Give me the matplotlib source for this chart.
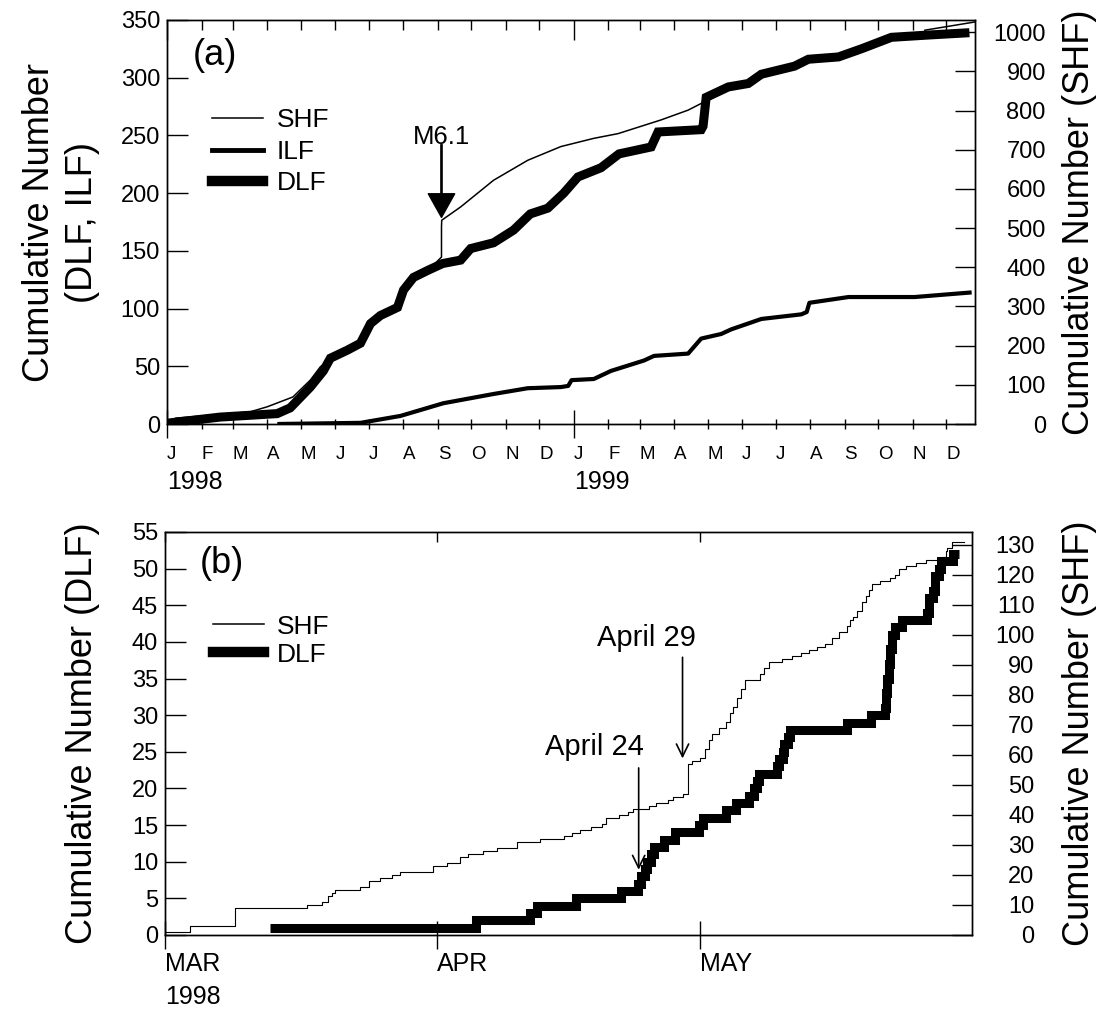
import numpy as np
import matplotlib
matplotlib.use('Agg')
import matplotlib.pyplot as plt
import matplotlib.dates as mdates
from matplotlib.lines import Line2D
from matplotlib.ticker import FuncFormatter, MultipleLocator

plt.rcParams['font.family'] = ['Liberation Sans', 'DejaVu Sans']
plt.rcParams['axes.linewidth'] = 1.0

# panel (a): event times in days after 1998-01-01
A_START = np.datetime64('1998-01-01')
A_END = np.datetime64('1999-12-27')

dlf_a_day = [0, 2.7, 47.7, 98.9, 110.6, 119.6, 128.6, 140.3, 146.6, 161.9,
             173.6, 182.6, 191.5, 206.8, 212.2, 221.2, 233.8, 247.3, 263.5, 272.5,
             293, 311, 326, 341.7, 356, 368.7, 389.4, 405.6, 434.4, 440.6,
             479.3, 481, 483.8, 503.6, 521.6, 533.3, 563, 575.5, 602.5, 623,
             650, 683.5, 720]
dlf_a_count = [0, 1, 6, 9, 14, 23, 32, 46, 57, 64,
               70, 87, 94, 101, 116, 127, 133, 139, 142, 152,
               157, 168, 182, 187, 200, 214, 222, 234, 240, 253,
               255, 258, 283, 292, 295, 303, 310, 316, 318, 325,
               335, 337, 339]

ilf_a_day = [99, 173.6, 209.5, 248, 293, 323.7, 353.4, 360, 363, 383,
             398.4, 428, 437, 467.6, 479.3, 497.3, 506.3, 533.3, 569.2, 574,
             576.4, 611.5, 670.9, 722]
ilf_a_count = [0, 1, 7, 18, 26, 31, 32, 33, 38, 39,
               46, 55, 59, 61, 74, 78, 82, 91, 95, 97,
               105, 110, 110, 114]

shf_a_day = [0, 8, 74.6, 90, 113, 128.6, 137.6, 149.3, 164.6, 173.6,
             182.6, 191.5, 206.8, 212.2, 221.2, 233.8, 246.3, 246.3, 246.5, 263.5,
             293, 323.7, 353.4, 383, 404.7, 443.3, 467.6, 479.3, 503.6, 521.6,
             533.3, 563, 575.5, 602.5, 623, 650, 679.5, 680, 725]
shf_a_count = [5, 15, 31, 44, 69, 112, 146, 171, 189, 205,
               255, 276, 297, 340, 373, 391, 426, 503, 520, 554,
               622, 673, 708, 729, 741, 776, 801, 818, 852, 868,
               891, 911, 929, 935, 955, 985, 990, 1005, 1026]

m61_day = 246.3

# panel (b): event times in days after 1998-03-01
B_START = np.datetime64('1998-03-01')
B_END = np.datetime64('1998-06-01')

shf_b_day = [0, 2.8, 8.0, 16.2, 17.9, 18.6, 19.0, 19.4, 22.2, 23.2,
             24.5, 25.9, 26.8, 30.5, 32.1, 33.6, 34.5, 36.2, 37.9, 40.1,
             42.7, 45.5, 46.4, 47.3, 48.6, 49.8, 50.3, 51.8, 52.8, 53.3,
             55.2, 56.0, 57.4, 57.9, 59.0, 59.6, 60.1, 61.0, 61.6, 62.0,
             62.4, 63.2, 64.0, 64.4, 64.7, 65.2, 65.7, 66.1, 67.8, 68.3,
             68.9, 70.3, 71.5, 72.5, 73.4, 74.3, 75.2, 76.0, 76.8, 77.7,
             78.1, 78.4, 78.9, 79.5, 79.9, 80.3, 80.6, 81.5, 82.6, 83.2,
             83.7, 84.5, 85.6, 86.8, 88.6, 89.0, 89.2, 89.7, 91.1]
shf_b_count = [1, 3, 9, 10, 11, 13, 14, 15, 16, 18,
               19, 20, 21, 23, 24, 26, 27, 28, 29, 31,
               32, 33, 34, 35, 36, 37, 39, 40, 41, 42,
               43, 44, 45, 46, 47, 57, 58, 59, 62, 65,
               67, 69, 71, 74, 76, 79, 82, 85, 87, 89,
               91, 92, 93, 94, 95, 96, 97, 99, 101, 103,
               105, 106, 108, 111, 113, 115, 117, 118, 119, 120,
               122, 123, 124, 125, 126, 128, 129, 131, 131]

dlf_b_day = [12.0, 35.5, 41.6, 42.4, 46.9, 52.0, 53.9, 54.3, 54.7, 55.0,
             55.4, 55.8, 56.9, 58.1, 60.9, 61.3, 64.0, 65.1, 66.6, 67.2,
             67.5, 67.7, 69.8, 70.0, 70.4, 70.6, 71.0, 71.2, 77.8, 80.5,
             82.1, 82.2, 82.3, 82.5, 82.7, 82.9, 83.2, 84.0, 86.9, 87.1,
             87.5, 87.8, 88.2, 88.5, 89.8, 90.5]
dlf_b_count = [1, 2, 3, 4, 5, 6, 7, 8, 9, 10,
               11, 12, 13, 14, 15, 16, 17, 18, 19, 20,
               21, 22, 23, 24, 25, 26, 27, 28, 29, 30,
               31, 33, 35, 37, 39, 41, 42, 43, 44, 46,
               47, 49, 50, 51, 52, 52]

b_months = ['1998-03-01', '1998-04-01', '1998-05-01']
b_month_labels = ['MAR', 'APR', 'MAY']


def to_dates(start, days):
    seconds = np.round(np.asarray(days, dtype=float) * 86400).astype('int64')
    return start + seconds.astype('timedelta64[s]')


def day_num(start, day):
    return mdates.date2num(to_dates(start, [day]))[0]


fig = plt.figure(figsize=(11.02, 10.09), dpi=100)

# ---------------- panel (a)
ax_a = fig.add_axes([0.15154, 0.57978, 0.73321, 0.40040])
ax_a2 = ax_a.twinx()

ax_a.plot(to_dates(A_START, dlf_a_day), dlf_a_count, color='k', lw=6.5,
          solid_joinstyle='miter', solid_capstyle='butt')
ax_a.plot(to_dates(A_START, ilf_a_day), ilf_a_count, color='k', lw=3.0,
          solid_capstyle='butt')
ax_a2.plot(to_dates(A_START, shf_a_day), shf_a_count, color='k', lw=1.1)

ax_a.set_xlim(A_START, A_END)
ax_a.set_ylim(0, 350)
ax_a2.set_ylim(0, 1031)
ax_a.yaxis.set_major_locator(MultipleLocator(50))
ax_a2.yaxis.set_major_locator(MultipleLocator(100))

letter = FuncFormatter(lambda x, pos: mdates.num2date(x).strftime('%b')[0])
ax_a.xaxis.set_major_locator(mdates.YearLocator())
ax_a.xaxis.set_minor_locator(mdates.MonthLocator())
ax_a.xaxis.set_major_formatter(letter)
ax_a.xaxis.set_minor_formatter(letter)

ax_a.tick_params(axis='x', which='minor', direction='inout', length=7.2, width=1,
                 labelsize=13.5, pad=12, top=False)
ax_a.tick_params(axis='x', which='major', direction='inout', length=19.5, width=1,
                 labelsize=13.5, pad=6.1, top=False)
ax_a2.xaxis.set_visible(True)
ax_a2.tick_params(axis='x', which='minor', direction='in', length=7.2, width=1,
                  bottom=False, top=True, labelbottom=False, labeltop=False)
ax_a2.tick_params(axis='x', which='major', direction='in', length=14.4, width=1,
                  bottom=False, top=True, labelbottom=False, labeltop=False)
for lab in ax_a.get_xticklabels(which='both'):
    lab.set_horizontalalignment('left')

ax_a.tick_params(axis='y', direction='in', length=15, width=1, labelsize=17, pad=5)
ax_a2.tick_params(axis='y', direction='in', length=14.5, width=1, labelsize=17, pad=51)
for lab in ax_a2.get_yticklabels():
    lab.set_horizontalalignment('right')

ax_a.set_ylabel('Cumulative Number\n(DLF, ILF)', fontsize=26, linespacing=1.3)
ax_a.yaxis.set_label_coords(-0.083, 0.5)
ax_a2.set_ylabel('Cumulative Number (SHF)', fontsize=26)
ax_a2.yaxis.set_label_coords(1.108, 0.5)

for year in ['1998', '1999']:
    ax_a.text(mdates.date2num(np.datetime64(year + '-01-01')), -0.113, year,
              transform=ax_a.get_xaxis_transform(), ha='left', va='top', fontsize=18)

ax_a.text(0.032, 0.911, '(a)', transform=ax_a.transAxes, ha='left', va='center',
          fontsize=26)

m61_x = day_num(A_START, m61_day)
ax_a.annotate('', xy=(m61_x, 179), xytext=(m61_x, 242),
              arrowprops=dict(facecolor='k', edgecolor='k', width=0.9,
                              headwidth=19, headlength=17, shrink=0))
ax_a.text(m61_x, 249, 'M6.1', ha='center', va='center', fontsize=18.5)

handles_a = [Line2D([], [], color='k', lw=1.1),
             Line2D([], [], color='k', lw=3.5),
             Line2D([], [], color='k', lw=7.5)]
ax_a2.legend(handles_a, ['SHF', 'ILF', 'DLF'], loc='upper left',
             bbox_to_anchor=(0.0557, 0.781), frameon=False, fontsize=19,
             handlelength=1.93, handletextpad=0.53, labelspacing=0.28,
             borderpad=0, borderaxespad=0)

# ---------------- panel (b)
ax_b = fig.add_axes([0.14973, 0.07334, 0.73230, 0.39941])
ax_b2 = ax_b.twinx()

ax_b2.plot(to_dates(B_START, shf_b_day), shf_b_count, color='k', lw=0.8,
           drawstyle='steps-post')
ax_b.plot(to_dates(B_START, dlf_b_day), dlf_b_count, color='k', lw=6.5,
          drawstyle='steps-post', solid_joinstyle='miter', solid_capstyle='butt')

ax_b.set_xlim(B_START, B_END)
ax_b.set_ylim(0, 55)
ax_b2.set_ylim(0, 134.3)
ax_b.yaxis.set_major_locator(MultipleLocator(5))
ax_b2.yaxis.set_major_locator(MultipleLocator(10))

ax_b.set_xticks(mdates.date2num(np.array(b_months, dtype='datetime64[D]')),
                labels=b_month_labels)
ax_b.tick_params(axis='x', direction='inout', length=20, width=1, labelsize=18,
                 pad=2, top=False)
ax_b2.xaxis.set_visible(True)
ax_b2.tick_params(axis='x', direction='in', length=7.2, width=1, bottom=False,
                  top=True, labelbottom=False, labeltop=False)
for lab in ax_b.get_xticklabels():
    lab.set_horizontalalignment('left')

ax_b.tick_params(axis='y', direction='in', length=15, width=1, labelsize=17, pad=5)
ax_b2.tick_params(axis='y', direction='in', length=14.5, width=1, labelsize=17, pad=45)
for lab in ax_b2.get_yticklabels():
    lab.set_horizontalalignment('right')

ax_b.set_ylabel('Cumulative Number (DLF)', fontsize=26)
ax_b.yaxis.set_label_coords(-0.080, 0.5)
ax_b2.set_ylabel('Cumulative Number (SHF)', fontsize=26)
ax_b2.yaxis.set_label_coords(1.111, 0.5)

ax_b.text(mdates.date2num(B_START), -0.124, '1998',
          transform=ax_b.get_xaxis_transform(), ha='left', va='top', fontsize=18)
ax_b.text(0.043, 0.923, '(b)', transform=ax_b.transAxes, ha='left', va='center',
          fontsize=26)

apr29 = mdates.date2num(np.datetime64('1998-04-29'))
apr24 = mdates.date2num(np.datetime64('1998-04-24'))
ax_b.annotate('', xy=(apr29, 24.1), xytext=(apr29, 37.9),
              arrowprops=dict(arrowstyle='->, head_length=0.45, head_width=0.22',
                              color='k', lw=1.2, mutation_scale=20, shrinkA=0, shrinkB=0))
ax_b.annotate('', xy=(apr24, 8.9), xytext=(apr24, 22.8),
              arrowprops=dict(arrowstyle='->, head_length=0.45, head_width=0.22',
                              color='k', lw=1.2, mutation_scale=20, shrinkA=0, shrinkB=0))
ax_b.text(day_num(B_START, 54.9), 40.6, 'April 29', ha='center', va='center', fontsize=21)
ax_b.text(day_num(B_START, 49.0), 25.6, 'April 24', ha='center', va='center', fontsize=21)

handles_b = [Line2D([], [], color='k', lw=1.1),
             Line2D([], [], color='k', lw=7.5)]
ax_b2.legend(handles_b, ['SHF', 'DLF'], loc='upper left',
             bbox_to_anchor=(0.0595, 0.795), frameon=False, fontsize=19,
             handlelength=1.93, handletextpad=0.5, labelspacing=0.15,
             borderpad=0, borderaxespad=0)

fig.savefig('out.png', dpi=100)
